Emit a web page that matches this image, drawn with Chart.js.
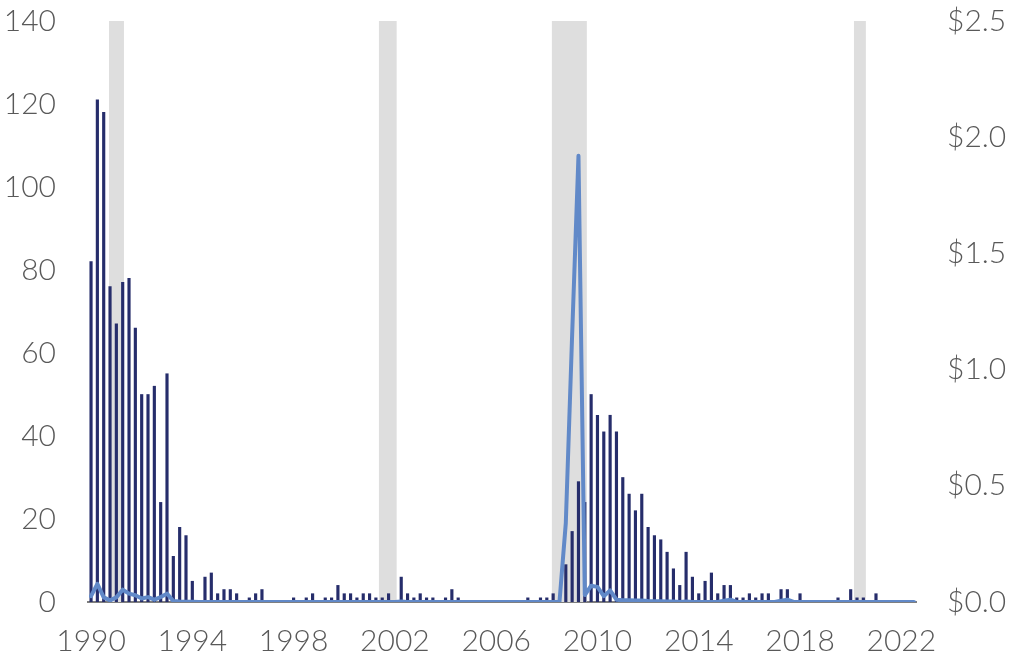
<!DOCTYPE html>
<html>
<head>
<meta charset="utf-8">
<script src="https://cdn.jsdelivr.net/npm/chart.js@4.4.1/dist/chart.umd.min.js"></script>
<style>
  html, body { margin: 0; padding: 0; background: #fff; }
  #wrap { width: 1014px; height: 666px; }
</style>
</head>
<body>
<div id="wrap"><canvas id="failures"></canvas></div>
<script>
// Quarterly series, first value is Q4 1989 (plotted at its quarter end, i.e. start of 1990)
const firstQuarterEnd = 1990;

// number of failed banks per quarter (left axis)
const failedBanks = [
  82, 121, 118, 76, 67, 77, 78, 66, 50, 50, 52, 24, 55, 11, 18, 16, 5,
  0, 6, 7, 2, 3, 3, 2, 0, 1, 2, 3,
  0, 0, 0, 0,
  1, 0, 1, 2, 0, 1, 1, 4, 2, 2, 1, 2, 2, 1, 1, 2, 0, 6, 2, 1, 2, 1, 1, 0, 1, 3, 1,
  0, 0, 0, 0, 0, 0, 0, 0, 0, 0,
  1, 0, 1, 1, 2, 0, 9, 17, 29, 24, 50, 45, 41, 45, 41, 30, 26, 22, 26, 18,
  16, 15, 12, 8, 4, 12, 6, 2, 5, 7, 2, 4, 4, 1, 1, 2, 1, 2, 2, 0, 3, 3, 0, 2,
  0, 0, 0, 0, 0,
  1, 0, 3, 1, 1, 0, 2,
  0, 0, 0, 0, 0, 0
];

// assets of failed banks, $ trillions (right axis)
const failedAssets = [
  0.025, 0.078, 0.02, 0.007, 0.02, 0.053, 0.036, 0.029, 0.015, 0.021, 0.01, 0.021, 0.036, 0.004, 0.002, 0.001, 0.001,
  0, 0, 0, 0, 0, 0, 0, 0, 0, 0, 0,
  0, 0, 0, 0,
  0, 0, 0, 0, 0, 0, 0, 0, 0, 0, 0, 0, 0, 0, 0, 0, 0, 0.002, 0, 0, 0, 0, 0, 0, 0, 0, 0,
  0, 0, 0, 0, 0, 0, 0, 0, 0, 0,
  0, 0, 0, 0, 0, 0, 0.34, 1.15, 1.92, 0.03, 0.07, 0.065, 0.025, 0.05, 0.01, 0.008, 0.008, 0.006, 0.006, 0.004,
  0.003, 0.003, 0.002, 0.002, 0, 0.002, 0, 0, 0, 0, 0, 0.006, 0.01, 0, 0, 0, 0, 0, 0, 0, 0.006, 0.01, 0, 0,
  0, 0, 0, 0, 0,
  0, 0, 0, 0, 0, 0, 0,
  0, 0, 0, 0, 0, 0
];

const yearTicks = [1990, 1994, 1998, 2002, 2006, 2010, 2014, 2018, 2022];

// recession periods, decimal years
const recessionStarts = [1990.71, 2001.37, 2008.2, 2020.13];
const recessionEnds = [1991.3, 2002.07, 2009.58, 2020.6];

const quarterEnds = failedBanks.map((_, i) => firstQuarterEnd + i / 4);

const tickFont = { family: "Lato, 'Open Sans', sans-serif", size: 30, weight: 300 };
const tickColor = "#595959";

const recessionShading = {
  id: "recessionShading",
  beforeDatasetsDraw(chart) {
    const { ctx, chartArea, scales } = chart;
    ctx.save();
    ctx.fillStyle = "#dedede";
    recessionStarts.forEach((start, i) => {
      const x0 = scales.x.getPixelForValue(start);
      const x1 = scales.x.getPixelForValue(recessionEnds[i]);
      ctx.fillRect(x0, chartArea.top, x1 - x0, chartArea.bottom - chartArea.top);
    });
    ctx.restore();
  }
};

// fixed axis sizes; the value axes should not push the plot down for their end labels
function fixVertical(width) {
  return (scale) => {
    scale.width = width;
    scale.paddingTop = 0;
    scale.paddingBottom = 0;
  };
}

new Chart(document.getElementById("failures"), {
  type: "bar",
  data: {
    datasets: [
      {
        type: "line",
        label: "Assets of failed banks",
        data: quarterEnds.map((x, i) => ({ x, y: failedAssets[i] })),
        yAxisID: "y1",
        borderColor: "#6189c8",
        borderWidth: 4,
        borderJoinStyle: "round",
        borderCapStyle: "round",
        pointRadius: 0,
        tension: 0,
        order: 0
      },
      {
        label: "Failed banks",
        data: quarterEnds.map((x, i) => ({ x, y: failedBanks[i] })),
        yAxisID: "y",
        backgroundColor: "#262d6b",
        barThickness: 2.5,
        order: 1
      }
    ]
  },
  options: {
    responsive: true,
    maintainAspectRatio: false,
    animation: false,
    layout: { padding: { top: 21, left: 0, right: 0, bottom: 0 } },
    plugins: { legend: { display: false }, tooltip: { enabled: false } },
    scales: {
      x: {
        type: "linear",
        offset: false,
        min: 1989.88,
        max: 2022.58,
        grid: { display: false, drawTicks: false },
        border: { display: true, color: "#7f7f7f", width: 2 },
        afterBuildTicks: (scale) => {
          scale.ticks = yearTicks.map((value) => ({ value }));
        },
        afterFit: (scale) => {
          scale.height = 64;
          scale.paddingLeft = 0;
          scale.paddingRight = 0;
        },
        ticks: {
          padding: 21,
          maxRotation: 0,
          autoSkip: false,
          font: tickFont,
          color: tickColor,
          callback: (value) => String(value)
        }
      },
      y: {
        position: "left",
        min: 0,
        max: 140,
        grid: { display: false, drawTicks: false },
        border: { display: false },
        afterFit: fixVertical(88),
        ticks: { stepSize: 20, padding: 32, font: tickFont, color: tickColor }
      },
      y1: {
        position: "right",
        min: 0,
        max: 2.5,
        grid: { display: false, drawTicks: false },
        border: { display: false },
        afterFit: fixVertical(98),
        ticks: {
          stepSize: 0.5,
          padding: 31,
          font: tickFont,
          color: tickColor,
          callback: (value) => "$" + value.toFixed(1)
        }
      }
    }
  },
  plugins: [recessionShading]
});
</script>
</body>
</html>
